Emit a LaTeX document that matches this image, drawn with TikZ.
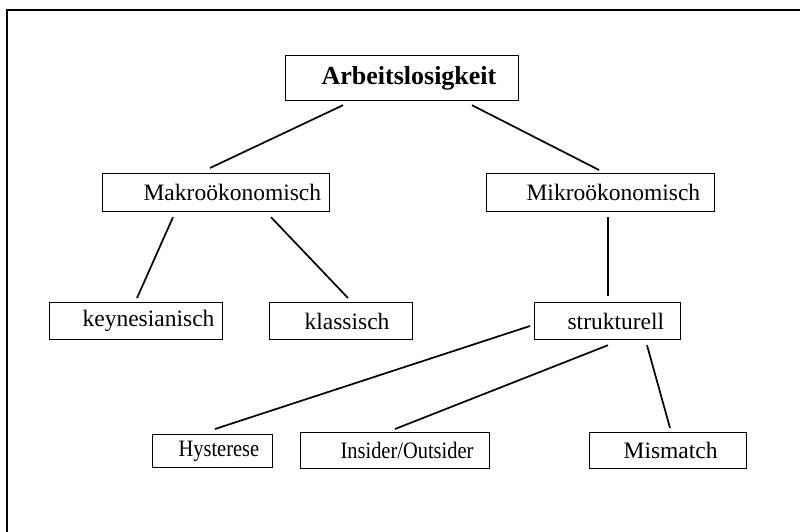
\documentclass[tikz,border=0pt]{standalone}
\usepackage{fontspec}
\setmainfont{Liberation Serif}
\newfontfamily\schmal[FakeStretch=0.87]{Liberation Serif}
\usetikzlibrary{positioning}

\tikzset{
  kasten/.style={draw, line width=1.2pt, anchor=north west, inner sep=0pt,
    align=left, minimum height=37pt, font=\fontsize{23.5}{28}\selectfont},
  schmal/.style={font=\fontsize{23.5}{28}\schmal},
  linie/.style={line width=1.7pt}
}

\begin{document}
\begin{tikzpicture}[x=1pt,y=-1pt]
\useasboundingbox (0,0) rectangle (800,532);
\draw[line width=2pt] (800,10) -- (7,10) -- (7,532);

\node[kasten, text width=233pt, minimum height=45pt, font=\fontsize{26}{30}\selectfont\bfseries]
  (arb) at (285,55) {\hspace*{36pt}\mbox{Arbeitslosigkeit}};
\node[kasten, text width=227pt, minimum height=38pt] (makro) at (102,173) {\hspace*{41pt}\mbox{Makroökonomisch}};
\node[kasten, text width=228pt, minimum height=38pt] (mikro) at (486,173) {\hspace*{40pt}\mbox{Mikroökonomisch}};
\node[kasten, text width=173pt] (keyn) at (49,302) {\hspace*{33pt}\mbox{keynesianisch}};
\node[kasten, text width=143pt] (klass) at (269,302) {\hspace*{35pt}\mbox{klassisch}};
\node[kasten, text width=146pt] (strukt) at (534,302) {\hspace*{33pt}\mbox{strukturell}};
\node[kasten, schmal, text width=120pt, minimum height=33pt] (hyst) at (152,434) {\hspace*{26pt}\mbox{Hysterese}};
\node[kasten, schmal, text width=189pt, minimum height=36pt] (insider) at (300,432) {\hspace*{40pt}\mbox{Insider/Outsider}};
\node[kasten, text width=157pt, minimum height=36pt] (mism) at (589,432) {\hspace*{34pt}\mbox{Mismatch}};

% Verbindungen
\draw[linie] ([shift={(58,4)}]arb.south west) -- ([shift={(108,-5)}]makro.north west);
\draw[linie] ([shift={(187,4)}]arb.south west) -- ([shift={(113,-3)}]mikro.north west);
\draw[linie] ([shift={(71,5)}]makro.south west) -- ([shift={(88,-4)}]keyn.north west);
\draw[linie] ([shift={(169,5)}]makro.south west) -- ([shift={(79,-4)}]klass.north west);
\draw[linie] ([shift={(122,5)}]mikro.south west) -- ([shift={(74,-6)}]strukt.north west);
\draw[linie] ([shift={(-4,24)}]strukt.north west) -- ([shift={(63,-5)}]hyst.north west);
\draw[linie] ([shift={(74,5)}]strukt.south west) -- ([shift={(95,-3)}]insider.north west);
\draw[linie] ([shift={(113,5)}]strukt.south west) -- ([shift={(81,-4)}]mism.north west);
\end{tikzpicture}
\end{document}
